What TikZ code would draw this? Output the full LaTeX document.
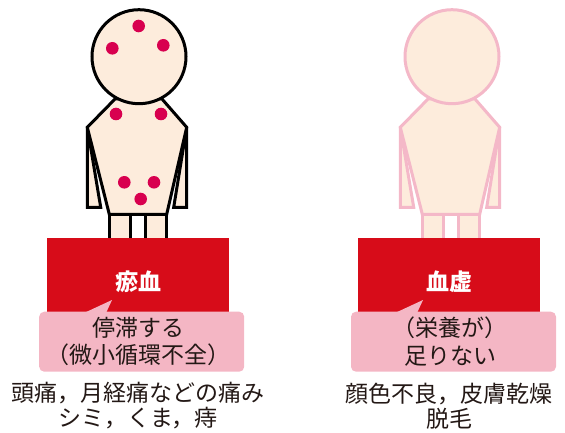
\documentclass[tikz,border=0pt]{standalone}
\usepackage{fontspec}
\setmainfont{Noto Sans CJK JP}

\definecolor{skin}{HTML}{FDECDC}
\definecolor{spot}{HTML}{D8004F}
\definecolor{bandred}{HTML}{D70C19}
\definecolor{notepink}{HTML}{F4B6C4}
\definecolor{linepink}{HTML}{F4B8C8}
\definecolor{ink}{HTML}{231815}

% 人形：手臂、腿、躯干、头
\newcommand{\person}[1]{%
    \filldraw[outline=#1] (87.3,127.3) -- (87.3,207.3) -- (100.7,207.3) -- cycle;
    \filldraw[outline=#1] (186.7,127.3) -- (186.7,207.3) -- (173.7,207.3) -- cycle;
    \filldraw[outline=#1] (109.3,214.3) rectangle (130,245);
    \filldraw[outline=#1] (145.7,214.3) rectangle (166.7,245);
    \filldraw[outline=#1] (115,99) -- (87.3,127.3) -- (109.3,214.3)
        -- (166.7,214.3) -- (186.7,127.3) -- (162,99) -- cycle;
    \filldraw[outline=#1] (139,56.7) circle (47);
}

\begin{document}
\begin{tikzpicture}[x=1pt, y=-1pt,
    outline/.style={fill=skin, draw=#1, line width=3pt},
    band/.style={fill=bandred, text=white, font=\fontsize{23}{27}\selectfont\bfseries,
        minimum width=182pt, minimum height=87pt, inner sep=0pt},
    note/.style={fill=notepink, rounded corners=5pt, minimum width=205pt,
        minimum height=60pt, inner sep=0pt},
    say/.style={text=ink, align=center, font=\fontsize{23}{27.3}\selectfont},
    effect/.style={text=ink, align=center, font=\fontsize{23}{25}\selectfont}]
    \useasboundingbox (0,0) rectangle (565,433);

    % 左边的人形和斑点
    \person{black}
    \foreach \x/\y in {138.7/26, 112.3/48.3, 163.3/45.3, 116/114, 161/114,
                       124.3/182.3, 154/182.3, 140.7/199}
        \fill[spot] (\x,\y) circle (6.3);

    % 右边的人形
    \begin{scope}[xshift=313pt]
        \person{linepink}
    \end{scope}

    % 红色标题框
    \node[band] (stasis) at (138.2,281.6) {瘀血};
    \node[band] (deficit) at (449,281.6) {血虚};

    % 粉色说明框和尖角
    \node[note] (stasisnote) at (141.7,341.7) {};
    \fill[notepink] (84,313) -- (112,300) -- (106,313) -- cycle;
    \node[note] (deficitnote) at (453.5,341.7) {};
    \fill[notepink] (395,313) -- (423,300) -- (417,313) -- cycle;

    \node[say] (stasistext) at (138,341.5) {停滞する\\（微小循環不全）};
    \node[say] (deficittext) at (450,341.5) {（栄養が）\\足りない};

    % 症状
    \node[effect] (stasissign) at (138,405.8) {頭痛，月経痛などの痛み\\シミ，くま，痔};
    \node[effect] (deficitsign) at (449,405.8) {顔色不良，皮膚乾燥\\脱毛};
\end{tikzpicture}
\end{document}
